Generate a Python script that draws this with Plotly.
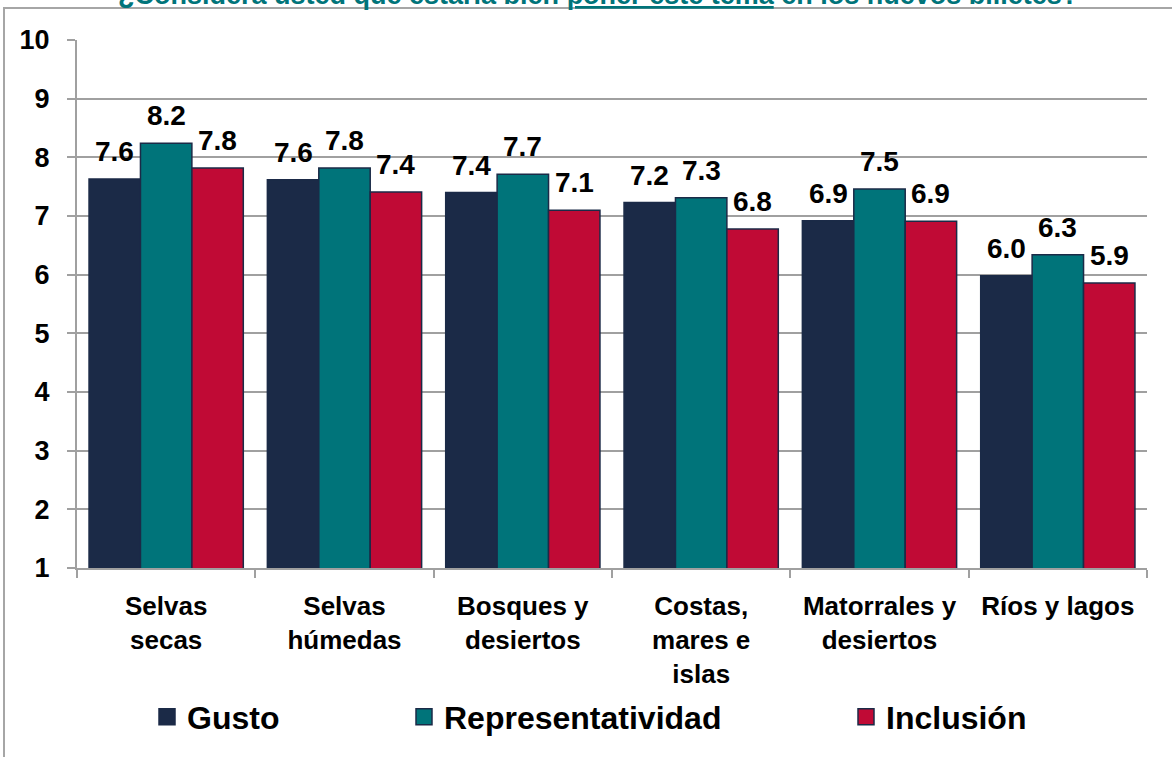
"""
Calificación promedio de los temas para los nuevos billetes (gráfica de barras agrupadas)
"""
import plotly.graph_objects as go

# categorías del eje x
categorias = ['Selvas<br>secas', 'Selvas<br>húmedas', 'Bosques y<br>desiertos',
              'Costas,<br>mares e<br>islas', 'Matorrales y<br>desiertos', 'Ríos y lagos']

# valores de cada serie
gusto = [7.63, 7.62, 7.40, 7.23, 6.92, 5.98]
representatividad = [8.24, 7.82, 7.71, 7.31, 7.46, 6.34]
inclusion = [7.82, 7.41, 7.10, 6.78, 6.91, 5.86]

# nombres de las series
series_nombres = ['Gusto', 'Representatividad', 'Inclusión']

# ticks del eje y
y_ticks = [1, 2, 3, 4, 5, 6, 7, 8, 9, 10]

titulo = ('¿Considera usted que estaría bien <u>poner este tema</u> '
          'en los nuevos billetes?')


def main() -> None:
    W, H = 1172, 757
    colores = ['#1B2A47', '#00747A', '#C00A35']
    valores = [gusto, representatividad, inclusion]
    bargap = 0.135
    # posición x (px) del inicio de cada leyenda
    leyenda_x = [147, 404, 846]
    leyenda_y = 717

    fig = go.Figure()
    for i, (nombre, vals, color) in enumerate(zip(series_nombres, valores, colores)):
        fig.add_trace(go.Bar(
            x=categorias, y=vals, name=nombre,
            marker=dict(color=color, line=dict(color='#1B2A47', width=1.5)),
            showlegend=False,
        ))
        # traza vacía solo para la leyenda (cuadro más grande)
        leg = 'legend' if i == 0 else f'legend{i + 1}'
        fig.add_trace(go.Scatter(
            x=[None], y=[None], mode='markers', name=nombre,
            marker=dict(symbol='square', size=19, color=color,
                        line=dict(color='#1B2A47', width=1.5)),
            legend=leg, showlegend=True,
        ))

    # etiquetas de datos encima de cada barra (con un poco más de separación)
    ancho_barra = (1 - bargap) / len(valores)
    for k, vals in enumerate(valores):
        for j, v in enumerate(vals):
            fig.add_annotation(
                x=j + (k - 1) * ancho_barra, y=v, xref='x', yref='y',
                text=f'{v:.1f}', showarrow=False, yanchor='bottom', yshift=10,
                font=dict(size=28, color='black', family='Arial', weight='bold'),
            )

    legend_common = dict(orientation='h', xref='container', yref='container',
                         xanchor='left', yanchor='middle',
                         font=dict(size=32, color='black', weight='bold'),
                         bgcolor='rgba(0,0,0,0)', itemclick=False, tracegroupgap=0)
    fig.update_layout(
        legend=dict(x=leyenda_x[0] / W, y=1 - leyenda_y / H, **legend_common),
        legend2=dict(x=leyenda_x[1] / W, y=1 - leyenda_y / H, **legend_common),
        legend3=dict(x=leyenda_x[2] / W, y=1 - leyenda_y / H, **legend_common),
    )

    fig.update_layout(
        width=W, height=H,
        barmode='group', bargap=bargap, bargroupgap=0,
        plot_bgcolor='white', paper_bgcolor='white',
        font=dict(family='Arial', size=26, color='black', weight='bold'),
        margin=dict(l=77, r=25, t=40, b=189, autoexpand=False),
    )

    fig.update_xaxes(
        showline=True, linecolor='#A0A0A0', linewidth=2,
        ticks='outside', tickson='boundaries', ticklen=8, tickcolor='#A0A0A0', tickwidth=2,
        tickfont=dict(size=26, family='Arial', color='black', weight='bold'),
        ticklabelstandoff=14, automargin=False,
        showgrid=False,
    )
    fig.update_yaxes(
        range=[1, 10], tickvals=y_ticks,
        tickfont=dict(size=27, family='Arial', color='black', weight='bold'),
        showline=True, linecolor='#A0A0A0', linewidth=2,
        ticks='outside', ticklen=8, tickcolor='#A0A0A0', tickwidth=2,
        ticklabelstandoff=12, automargin=False,
        showgrid=True, gridcolor='#A0A0A0', gridwidth=2,
        zeroline=False,
    )

    # título (cortado en la parte superior, como en el original)
    fig.add_annotation(
        text=titulo, xref='paper', yref='paper',
        x=(598 - 77) / 1070, y=(568 - 12) / 528,
        xanchor='center', yanchor='bottom', showarrow=False,
        font=dict(size=27, color='#00747A', family='Arial', weight='bold'),
    )

    # marco del área del gráfico
    fig.add_shape(
        type='rect', xref='paper', yref='paper',
        x0=(4 - 77) / 1070, x1=1.2, y0=-0.6, y1=(568 - 8) / 528,
        line=dict(color='#A6A6A6', width=2), layer='below',
    )

    # quitar el margen por defecto del body para que la figura quede en (0, 0)
    fig.write_html('out.html', config={'displayModeBar': False},
                   post_script="document.body.style.margin='0';")


if __name__ == "__main__":
    main()
